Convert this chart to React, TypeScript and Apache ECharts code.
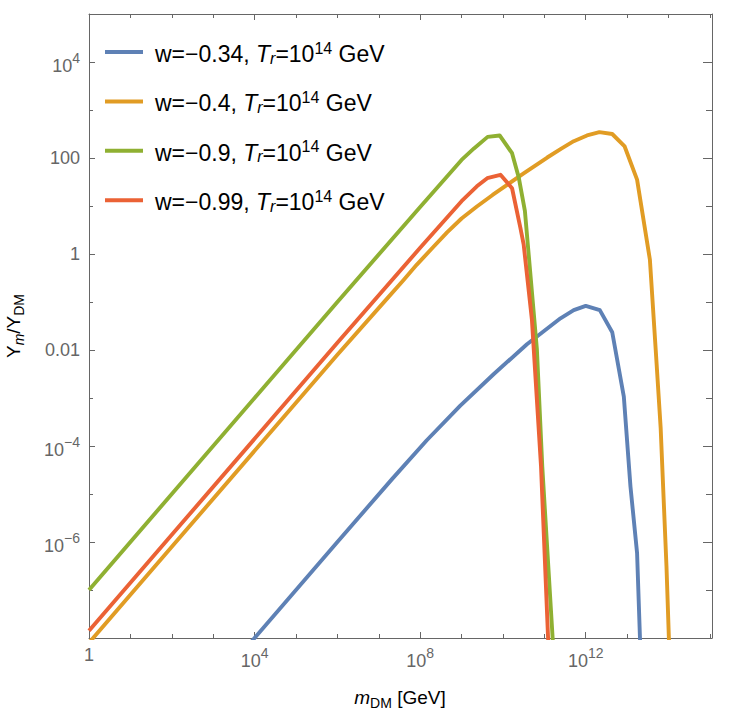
import React, { useEffect, useRef } from "react";
import * as echarts from "echarts";

// ---- data (log10 values) ----
const SERIES_W = ["−0.34", "−0.4", "−0.9", "−0.99"];
const COLORS = ["#5E81B5", "#E19C24", "#8FB032", "#EB6235"];

// w = -0.34
const blueLogM = [3.9, 4, 6, 7.32, 8.16, 8.97, 9.78, 10.58, 11.39, 11.71, 12.0, 12.34, 12.64, 12.92, 13.08, 13.24, 13.31, 13.33];
const blueLogY = [-8.1, -8, -6, -4.69, -3.88, -3.16, -2.5, -1.88, -1.34, -1.17, -1.08, -1.17, -1.63, -2.97, -4.84, -6.23, -8.0, -8.4];
// w = -0.4
const orangeLogM = [0, 2, 4, 6, 7.2, 7.6, 7.92, 8.3, 8.65, 9.0, 9.37, 9.75, 10.1, 10.5, 11.07, 11.4, 11.71, 12.03, 12.33, 12.64, 12.94, 13.24, 13.55, 13.69, 13.81, 13.95, 14.02];
const orangeLogY = [-8.1, -6.1, -4.1, -2.1, -0.93, -0.54, -0.22, 0.13, 0.45, 0.74, 0.99, 1.23, 1.44, 1.68, 2.01, 2.19, 2.35, 2.47, 2.54, 2.5, 2.24, 1.55, -0.12, -1.99, -3.63, -6.5, -8.3];
// w = -0.9
const greenLogM = [0, 2, 4, 6, 8, 9.0, 9.3, 9.63, 9.92, 10.22, 10.38, 10.53, 10.82, 10.95, 11.2, 11.25];
const greenLogY = [-7, -5, -3, -1, 0.98, 1.96, 2.2, 2.44, 2.47, 2.1, 1.6, 0.9, -1.99, -4.43, -8, -8.7];
// w = -0.99
const redLogM = [0, 2, 4, 6, 8, 9.0, 9.37, 9.62, 9.94, 10.22, 10.42, 10.5, 10.7, 10.92, 11.09, 11.12];
const redLogY = [-7.85, -5.85, -3.85, -1.85, 0.13, 1.1, 1.41, 1.58, 1.65, 1.37, 0.55, 0.2, -1.37, -4.43, -8, -8.6];

const X_MIN = 0;
const X_MAX = 15.05;
const Y_MIN = -8;
const Y_MAX = 5;
const X_LABELS = [0, 4, 8, 12];
const Y_LABELS = [-6, -4, -2, 0, 2, 4];
const Y_PLAIN: Record<string, string> = { "0": "1", "2": "100", "-2": "0.01" };

const FONT = "'Liberation Sans', Arial, Helvetica, sans-serif";
const FRAME = "#666666";
const LABEL = "#666666";

const zip = (a: number[], b: number[]) => a.map((v, i) => [v, b[i]]);

export default function App() {
  const ref = useRef<HTMLDivElement>(null);

  useEffect(() => {
    if (!ref.current) return;
    const chart = echarts.init(ref.current, undefined, { renderer: "svg" });

    const sup = (v: number) => String(v).replace("-", "−");
    const tickRich = {
      b: { fontSize: 18, color: LABEL, fontFamily: FONT, padding: [8, 0, 0, 0] },
      s: { fontSize: 14, color: LABEL, fontFamily: FONT, padding: [0, 0, 8, 0] },
      p: { fontSize: 18, color: LABEL, fontFamily: FONT },
      xp: { fontSize: 18, color: LABEL, fontFamily: FONT, padding: [2, 0, 0, 0] },
    };

    const baseX = (pos: "bottom" | "top", interval: number, len: number, withLine: boolean, withLabel: boolean) => ({
      type: "value",
      gridIndex: 0,
      position: pos,
      min: X_MIN,
      max: X_MAX,
      interval,
      axisLine: { show: withLine, onZero: false, lineStyle: { color: FRAME, width: 1 } },
      axisTick: { show: true, inside: true, length: len, lineStyle: { color: FRAME, width: 1 } },
      splitLine: { show: false },
      axisLabel: withLabel
        ? {
            show: true,
            margin: 6,
            showMinLabel: true,
            showMaxLabel: false,
            rich: tickRich,
            formatter: (v: number) => {
              if (!X_LABELS.includes(v)) return "";
              if (v === 0) return "{xp|1}";
              return `{b|10}{s|${sup(v)}}`;
            },
          }
        : { show: false },
    });

    const baseY = (pos: "left" | "right", interval: number, len: number, withLine: boolean, withLabel: boolean) => ({
      type: "value",
      gridIndex: 0,
      position: pos,
      min: Y_MIN,
      max: Y_MAX,
      interval,
      axisLine: { show: withLine, onZero: false, lineStyle: { color: FRAME, width: 1 } },
      axisTick: { show: true, inside: true, length: len, lineStyle: { color: FRAME, width: 1 } },
      splitLine: { show: false },
      axisLabel: withLabel
        ? {
            show: true,
            margin: 9,
            showMinLabel: true,
            showMaxLabel: false,
            rich: tickRich,
            formatter: (v: number) => {
              if (!Y_LABELS.includes(v)) return "";
              const plain = Y_PLAIN[String(v)];
              if (plain) return `{p|${plain}}`;
              return `{b|10}{s|${sup(v)}}`;
            },
          }
        : { show: false },
    });

    const seriesData = [
      zip(blueLogM, blueLogY),
      zip(orangeLogM, orangeLogY),
      zip(greenLogM, greenLogY),
      zip(redLogM, redLogY),
    ];

    const legendRich = {
      n: { fontSize: 23, color: "#000", fontFamily: FONT },
      it: { fontSize: 23, color: "#000", fontFamily: FONT, fontStyle: "italic" },
      sb: { fontSize: 16, color: "#000", fontFamily: FONT, fontStyle: "italic", padding: [8, 0, 0, 0] },
      sp: { fontSize: 16, color: "#000", fontFamily: FONT, padding: [0, 0, 12, 0] },
    };

    const legendGraphics: any[] = [];
    SERIES_W.forEach((w, i) => {
      const cy = 54 + i * 49.4;
      legendGraphics.push({
        type: "rect",
        shape: { x: 105, y: cy - 4, width: 38, height: 4 },
        style: { fill: COLORS[i] },
        silent: true,
      });
      legendGraphics.push({
        type: "text",
        x: 155,
        y: cy,
        style: {
          text: `{n|w=${w}, }{it|T}{sb|r}{n|=10}{sp|14}{n| GeV}`,
          rich: legendRich,
          align: "left",
          verticalAlign: "middle",
        },
        silent: true,
      });
    });

    const titleRich = {
      a: { fontSize: 19, color: LABEL, fontFamily: FONT },
      ai: { fontSize: 19, color: LABEL, fontFamily: FONT, fontStyle: "italic" },
      si: { fontSize: 14, color: LABEL, fontFamily: FONT, fontStyle: "italic", padding: [12, 0, 0, 0] },
      s: { fontSize: 14, color: LABEL, fontFamily: FONT, padding: [12, 0, 0, 0] },
    };

    chart.setOption({
      animation: false,
      backgroundColor: "#ffffff",
      grid: { left: 89, right: 22, top: 14, bottom: 86, containLabel: false },
      xAxis: [
        baseX("bottom", 1, 4, true, true),
        baseX("bottom", 4, 6, false, false),
        baseX("top", 1, 4, true, false),
        baseX("top", 4, 6, false, false),
      ],
      yAxis: [
        baseY("left", 1, 4, true, true),
        baseY("left", 2, 6, false, false),
        baseY("right", 1, 6, true, false),
        baseY("right", 2, 9, false, false),
      ],
      series: seriesData.map((d, i) => ({
        type: "line",
        name: `w=${SERIES_W[i]}`,
        xAxisIndex: 0,
        yAxisIndex: 0,
        data: d,
        showSymbol: false,
        symbol: "none",
        clip: true,
        lineStyle: { color: COLORS[i], width: 3.9, join: "round" },
        itemStyle: { color: COLORS[i] },
        z: 2 + i,
      })),
      graphic: [
        ...legendGraphics,
        {
          type: "text",
          x: 400,
          y: 697,
          style: {
            text: "{ai|m}{s|DM}{a| [GeV]}",
            rich: titleRich,
            align: "center",
            verticalAlign: "middle",
          },
          silent: true,
        },
        {
          type: "text",
          x: 13,
          y: 326,
          rotation: Math.PI / 2,
          style: {
            text: "{a|Y}{si|m}{a|/Y}{s|DM}",
            rich: titleRich,
            align: "center",
            verticalAlign: "middle",
          },
          silent: true,
        },
      ],
    });

    return () => chart.dispose();
  }, []);

  return (
    <div
      ref={ref}
      style={{ position: "fixed", left: 0, top: 0, width: 734, height: 724, background: "#fff" }}
    />
  );
}
